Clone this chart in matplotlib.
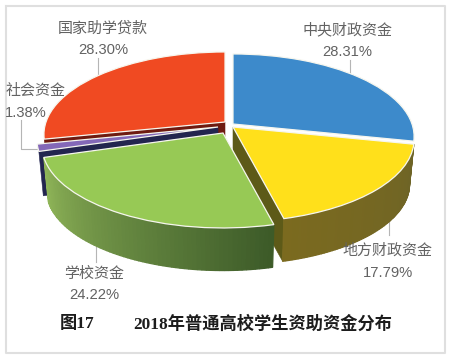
import numpy as np
import matplotlib
matplotlib.use("Agg")
import matplotlib.pyplot as plt
from matplotlib.transforms import Transform
from matplotlib.colors import to_rgb

categories = ["中央财政资金", "地方财政资金", "学校资金", "社会资金", "国家助学贷款"]
values = [28.31, 17.79, 24.22, 1.38, 28.30]
colors = ["#3d8acb", "#ffe01b", "#97c955", "#8468b8", "#f04a22"]
title_num = "图17"
title_text = "2018年普通高校学生资助资金分布"

CJK = "Noto Sans CJK SC"
CX, CY, A, B, K, DEPTH = 228, 125, 179, 80.6, 0.151, 45
offsets = [(5, -1), (5, 2), (-5, 8), (-10, 2), (-3, -3)]


class Persp(Transform):
    input_dims = output_dims = 2
    is_separable = False
    has_inverse = False

    def __init__(self, off=(0, 0), down=0, scale=1.0):
        super().__init__()
        self.off, self.down, self.scale = off, down, scale

    def transform_non_affine(self, values):
        v = np.asarray(values, float)
        s = self.scale / (1 + K * v[:, 1])
        x = CX + self.off[0] + A * v[:, 0] * s
        y = CY + self.off[1] + self.down - B * v[:, 1] * s
        return np.column_stack([x, y])


fig = plt.figure(figsize=(4.49, 3.58), dpi=100, facecolor="white")
ax = fig.add_axes([0, 0, 1, 1])
wedges, _ = ax.pie(values, colors=colors, startangle=90, counterclock=False,
                   frame=True, wedgeprops=dict(edgecolor="#f6f6ee", linewidth=0.9))
ax.set_xlim(0, 449)
ax.set_ylim(358, 0)
ax.set_axis_off()

BOTTOM = 0.975


def pt(theta, off, down=0, scale=1.0, r=1.0):
    t = np.radians(np.atleast_1d(theta))
    return Persp(off, down, scale).transform(np.column_stack([r * np.cos(t), r * np.sin(t)]))


def outer_wall(w, off, c_start, c_end, z, n=70):
    th = np.linspace(w.theta1, w.theta2, n + 1)
    top = pt(th, off)
    bot = pt(th, off, DEPTH, BOTTOM)
    c0, c1 = np.array(to_rgb(c_start)), np.array(to_rgb(c_end))
    for i in range(n):
        c = c0 + (c1 - c0) * (i + 0.5) / n
        ax.fill([top[i, 0], top[i + 1, 0], bot[i + 1, 0], bot[i, 0]],
                [top[i, 1], top[i + 1, 1], bot[i + 1, 1], bot[i, 1]],
                facecolor=c, edgecolor=c, lw=0.9, zorder=z)


def cut_wall(theta, off, color, z):
    a0 = Persp(off).transform(np.array([[0.0, 0.0]]))[0]
    a1 = Persp(off, DEPTH, BOTTOM).transform(np.array([[0.0, 0.0]]))[0]
    e0 = pt(theta, off)[0]
    e1 = pt(theta, off, DEPTH, BOTTOM)[0]
    ax.fill([a0[0], e0[0], e1[0], a1[0]], [a0[1], e0[1], e1[1], a1[1]],
            color=color, lw=0.4, zorder=z)


for i, w in enumerate(wedges):
    w.set_transform(Persp(offsets[i]) + ax.transData)
    w.set_clip_on(False)
top_z = [2, 6, 6, 4, 3]
for w, z in zip(wedges, top_z):
    w.set_zorder(z)

cut_wall(wedges[4].theta2, offsets[4], "#6e1a10", 2.5)
cut_wall(wedges[3].theta2, offsets[3], "#23254f", 3.5)
cut_wall(wedges[1].theta1, offsets[1], "#5d5a18", 5)
outer_wall(wedges[1], offsets[1], "#7b6a1f", "#6e6426", 5.2)
outer_wall(wedges[2], offsets[2], "#92b85a", "#3c5a28", 5.5)

# frame
ax.plot([5.5, 445, 445, 5.5, 5.5], [5.5, 5.5, 352.5, 352.5, 5.5],
        color="#dfdfdf", lw=1.5, zorder=1)

# leader lines
lc = "#b5b5b5"
for xs, ys in [([98, 98], [58, 75]), ([350, 350], [60, 75]), ([389, 389], [220, 235]),
               ([96, 96], [247, 262]), ([21, 21, 40], [120, 149, 149])]:
    ax.plot(xs, ys, color=lc, lw=0.8, zorder=1.5)

label_pos = [(347, 30, 347, 52), (388, 251, 388, 273), (94, 274, 94, 295),
             (36, 91, 26, 113), (103, 28, 103, 50)]
tc = "#626262"
for name, v, (x1, y1, x2, y2) in zip(categories, values, label_pos):
    ax.text(x1, y1, name, family=CJK, fontsize=10.8, color=tc, ha="center", va="center", zorder=8)
    ax.text(x2, y2, f"{v:.2f}%", family="Liberation Sans", fontsize=10.6, color=tc,
            ha="center", va="center", zorder=8)

title_family = ["Liberation Serif", CJK]
ax.text(60, 324, title_num, family=title_family, fontsize=12.4, fontweight="bold",
        color="#1c1c1c", ha="left", va="center", zorder=8)
ax.text(133, 324, title_text, family=title_family, fontsize=12.4, fontweight="bold",
        color="#1c1c1c", ha="left", va="center", zorder=8)

fig.savefig("out.png", dpi=100, facecolor="white")
